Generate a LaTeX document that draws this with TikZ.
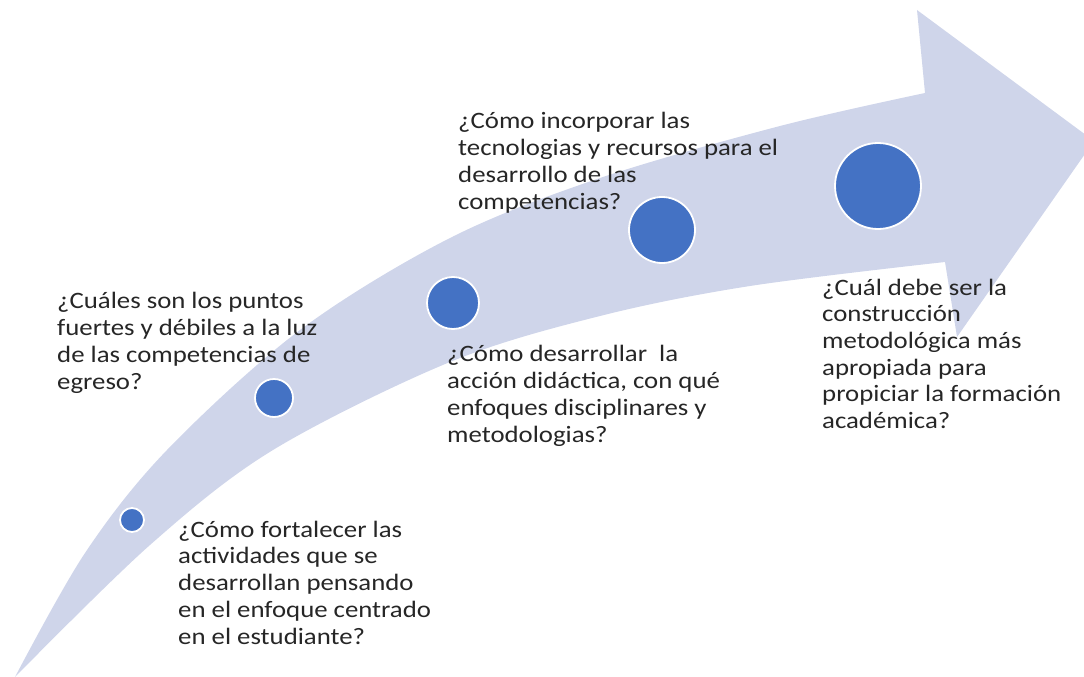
\documentclass[tikz,border=0pt]{standalone}
\usepackage{fontspec}
\setmainfont{Carlito}
\newfontfamily\qfont[FakeStretch=1.14]{Carlito}
\begin{document}
\begin{tikzpicture}[x=1pt,y=-1pt,
  arrowfill/.style={fill=arrowblue},
  dot/.style={circle,fill=dotblue,draw=white,line width=1.8pt,inner sep=0pt},
  qtext/.style={anchor=base west,align=left,inner sep=0pt,text=textgray,
     font=\qfont\fontsize{23.5}{26.7}\selectfont}]
\definecolor{arrowblue}{HTML}{CFD5EA}
\definecolor{dotblue}{HTML}{4472C4}
\definecolor{textgray}{HTML}{262626}
\useasboundingbox (0,0) rectangle (1084,677);
\begin{scope}
\clip (0,0) rectangle (1084,677);
\fill[arrowfill] (15,677)
  -- plot[smooth,tension=0.55] coordinates {(15,677) (85,553) (167,450) (300,330) (450,238) (600,178) (780,126) (925,93)}
  -- (917,10) -- (1094,141) -- (957,337) -- (945,262)
  -- plot[smooth,tension=0.55] coordinates {(945,262) (750,286) (600,316) (450,362) (273,450) (150,545) (15,677)}
  -- cycle;
\end{scope}
\node[dot,minimum size=24pt] (d1) at (132,520) {};
\node[dot,minimum size=38pt] (d2) at (274,398) {};
\node[dot,minimum size=52pt] (d3) at (453,303) {};
\node[dot,minimum size=66pt] (d4) at (662,230) {};
\node[dot,minimum size=86pt] (d5) at (878,186) {};
\node[qtext] (t1) at (178,644) {¿Cómo fortalecer las\\actividades que se\\desarrollan pensando\\en el enfoque centrado\\en el estudiante?};
\node[qtext] (t2) at (57,389) {¿Cuáles son los puntos\\fuertes y débiles a la luz\\de las competencias de\\egreso?};
\node[qtext] (t3) at (447,442) {¿Cómo desarrollar\ \ la\\acción didáctica, con qué\\enfoques disciplinares y\\metodologias?};
\node[qtext] (t4) at (458,209) {¿Cómo incorporar las\\tecnologias y recursos para el\\desarrollo de las\\competencias?};
\node[qtext] (t5) at (822,428.5) {¿Cuál debe ser la\\construcción\\metodológica más\\apropiada para\\propiciar la formación\\académica?};
\end{tikzpicture}
\end{document}
